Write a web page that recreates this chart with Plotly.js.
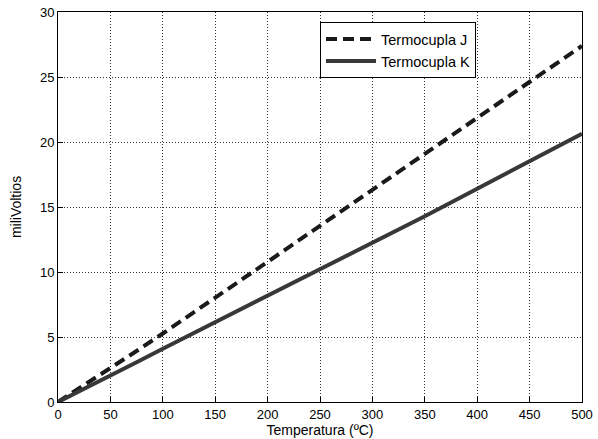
<!DOCTYPE html>
<html>
<head>
<meta charset="utf-8">
<script src="https://cdn.plot.ly/plotly-3.0.1.min.js"></script>
<style>html,body{margin:0;padding:0;background:#fff;}#chart{width:598px;height:439px;}</style>
</head>
<body>
<div id="chart"></div>
<script>
const temperature = [0, 25, 50, 75, 100, 125, 150, 175, 200, 225, 250, 275, 300, 325, 350, 375, 400, 425, 450, 475, 500];
const voltsJ = [0, 1.28, 2.59, 3.92, 5.27, 6.63, 8.01, 9.39, 10.78, 12.17, 13.55, 14.94, 16.33, 17.71, 19.09, 20.47, 21.85, 23.23, 24.61, 26.00, 27.39];
const voltsK = [0, 1.00, 2.02, 3.06, 4.10, 5.12, 6.14, 7.14, 8.14, 9.14, 10.15, 11.18, 12.21, 13.25, 14.29, 15.34, 16.40, 17.46, 18.52, 19.58, 20.64];
const xTicks = [0, 50, 100, 150, 200, 250, 300, 350, 400, 450, 500];
const yTicks = [0, 5, 10, 15, 20, 25, 30];

const fam = 'Liberation Sans, Arial, Helvetica, sans-serif';

const traces = [
  {x: temperature, y: voltsJ, type: 'scatter', mode: 'lines', name: 'Termocupla J',
   line: {color: '#1a1a1a', width: 4, dash: '11px,6px'}},
  {x: temperature, y: voltsK, type: 'scatter', mode: 'lines', name: 'Termocupla K',
   line: {color: '#383838', width: 4}}
];

const axisCommon = {
  showline: true, linecolor: '#000', linewidth: 1, mirror: true,
  showgrid: true, gridcolor: '#333', gridwidth: 1, griddash: '1px,2px',
  zeroline: false, ticks: 'inside', ticklen: 5, tickcolor: '#000',
  tickfont: {family: fam, size: 13, color: '#000'}
};

const layout = {
  width: 598, height: 439,
  margin: {l: 58, r: 16, t: 12, b: 37},
  paper_bgcolor: '#fff', plot_bgcolor: '#fff',
  font: {family: fam, size: 13, color: '#000'},
  showlegend: true,
  legend: {x: 0.5, y: 0.974, xanchor: 'left', yanchor: 'top',
           bgcolor: '#fff', bordercolor: '#000', borderwidth: 1,
           font: {family: fam, size: 14.5, color: '#000'},
           itemwidth: 50, tracegroupgap: 0},
  xaxis: Object.assign({}, axisCommon, {
    range: [0, 500], tickvals: xTicks, ticktext: xTicks.map(String),
    ticklabelstandoff: 0,
    title: {text: 'Temperatura (ºC)', font: {family: fam, size: 14, color: '#000'}, standoff: 0}
  }),
  yaxis: Object.assign({}, axisCommon, {
    range: [0, 30], tickvals: yTicks, ticktext: yTicks.map(String),
    title: {text: 'miliVoltios', font: {family: fam, size: 14, color: '#000'}, standoff: 15}
  })
};

Plotly.newPlot('chart', traces, layout, {displayModeBar: false, staticPlot: true});
</script>
</body>
</html>
